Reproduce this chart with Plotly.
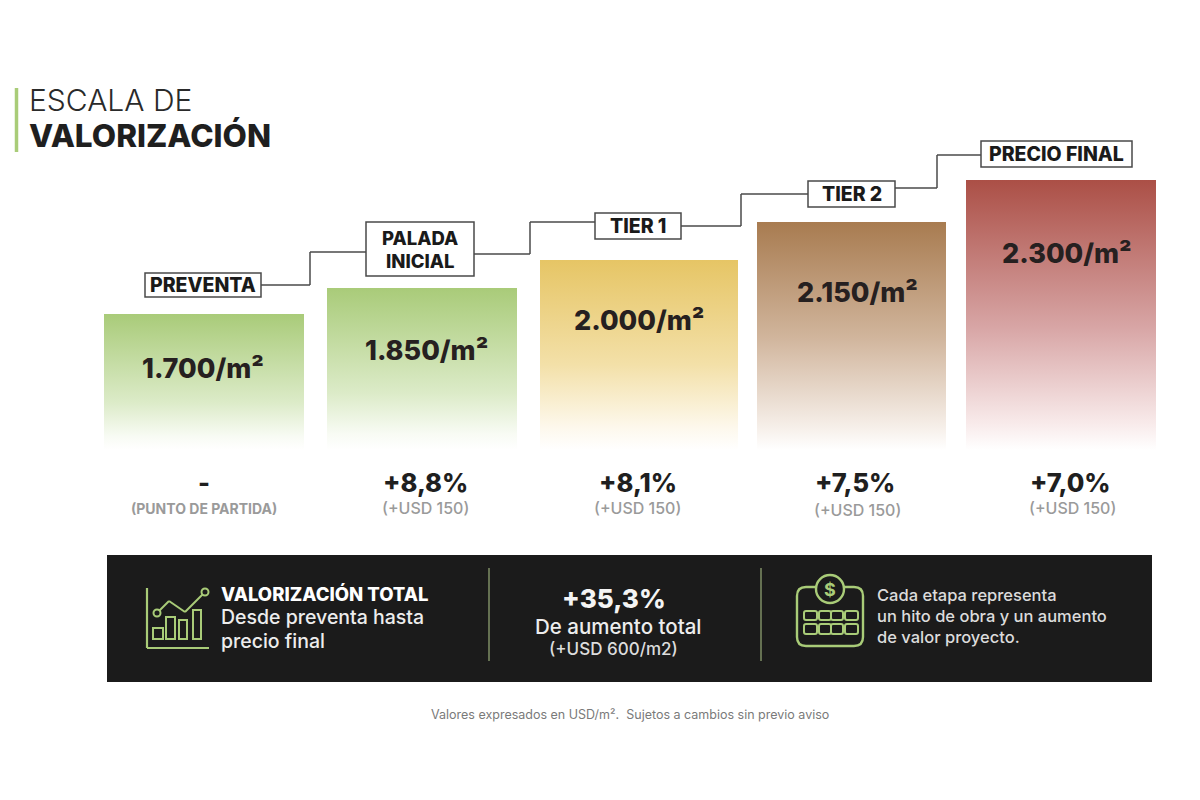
import plotly.graph_objects as go

# =========================
# Data
# =========================
stage_labels = ["PREVENTA", "PALADA<br>INICIAL", "TIER 1", "TIER 2", "PRECIO FINAL"]
price_values = [1700, 1850, 2000, 2150, 2300]
# the bars are not to scale in the source, so drawn height is read separately
drawn_heights = [136, 162, 190, 228, 270]
pct_changes = [None, 8.8, 8.1, 7.5, 7.0]
usd_changes = [None, 150, 150, 150, 150]

total_pct = "+35,3%"
total_usd = "(+USD 600/m2)"

# =========================
# Layout (pixels)
# =========================
FONT = "Inter"
INK = "#1f1f1f"
GREEN = "#a9cc78"
BASELINE = 450
PAD = 3  # annotations sit a little inside their anchor

bar_left = [104, 327, 540, 757, 966]
bar_right = [304, 517, 738, 946, 1156]
bar_fades = [
    [[0, "#ffffff"], [0.10, "#f8fbf4"], [0.35, "#dcebc8"], [1, "#a9cb79"]],
    [[0, "#ffffff"], [0.10, "#f8fbf4"], [0.35, "#dcebc8"], [1, "#a9cb79"]],
    [[0, "#ffffff"], [0.12, "#fdf8ec"], [0.45, "#f3e0a8"], [1, "#e6c565"]],
    [[0, "#ffffff"], [0.10, "#f6efe9"], [0.50, "#d0b49b"], [1, "#a87b50"]],
    [[0, "#ffffff"], [0.10, "#f8eaea"], [0.45, "#d8a6a6"], [1, "#ab4f46"]],
]
price_xy = [(203, 368), (426, 350), (639, 320), (857, 292), (1067, 253)]
pct_x = [204, 425, 638, 855, 1070]
usd_x = [204, 425, 637, 857, 1072]
usd_y = [508, 508, 508, 510, 508]
label_boxes = [
    (145, 261, 273, 297),
    (366, 474, 222, 276),
    (595, 681, 213, 239),
    (808, 895, 181, 207),
    (981, 1132, 141, 167),
]
connectors = [
    [(261, 285), (310, 285), (310, 252), (366, 252)],
    [(474, 254), (530, 254), (530, 222), (595, 222)],
    [(681, 226), (741, 226), (741, 194), (808, 194)],
    [(895, 188), (937, 188), (937, 155), (981, 155)],
]

fig = go.Figure()


def text(x, y, s, size, color=INK, bold=False, anchor="center", weight=None):
    fig.add_annotation(
        x=x - PAD if anchor == "left" else x, y=y, text=s, showarrow=False,
        xanchor=anchor, yanchor="middle", align="center",
        font=dict(family=FONT, size=size, color=color,
                  weight=weight if weight else (700 if bold else 400)),
    )


def line(x0, y0, x1, y1, color, width=1.5):
    fig.add_shape(type="line", x0=x0, y0=y0, x1=x1, y1=y1,
                  line=dict(color=color, width=width))


def rect(x0, y0, x1, y1, color, width=1.5, fill=None):
    fig.add_shape(type="rect", x0=x0, y0=y0, x1=x1, y1=y1,
                  line=dict(color=color, width=width),
                  fillcolor=fill if fill else "rgba(0,0,0,0)")


def round_rect_path(x0, y0, x1, y1, r):
    return (f"M {x0 + r} {y0} L {x1 - r} {y0} Q {x1} {y0} {x1} {y0 + r} "
            f"L {x1} {y1 - r} Q {x1} {y1} {x1 - r} {y1} L {x0 + r} {y1} "
            f"Q {x0} {y1} {x0} {y1 - r} L {x0} {y0 + r} Q {x0} {y0} {x0 + r} {y0} Z")


# =========================
# Title
# =========================
line(16.5, 88, 16.5, 152, GREEN, 3.5)
text(30, 100, "ESCALA DE", 30, "#2a2a2a", anchor="left", weight=300)
text(30, 135, "VALORIZACIÓN", 31.5, INK, anchor="left", weight=800)

# =========================
# Bars
# =========================
for i, h in enumerate(drawn_heights):
    x0, x1 = bar_left[i], bar_right[i]
    top = BASELINE - h
    fig.add_trace(go.Scatter(
        x=[x0, x0, x1, x1, x0],
        y=[BASELINE, top, top, BASELINE, BASELINE],
        mode="lines",
        line=dict(width=0),
        fill="toself",
        fillgradient=dict(type="vertical", colorscale=bar_fades[i]),
        hoverinfo="skip",
        showlegend=False,
    ))
    price = f"{price_values[i]:,}".replace(",", ".") + "/m²"
    text(price_xy[i][0], price_xy[i][1], price, 27, "#262020", weight=800)

    pct = "-" if pct_changes[i] is None else f"+{pct_changes[i]:.1f}%".replace(".", ",")
    text(pct_x[i], 482, pct, 25.5, INK, weight=800)
    usd = "(PUNTO DE PARTIDA)" if usd_changes[i] is None else f"(+USD {usd_changes[i]})"
    text(usd_x[i], usd_y[i], usd, 14 if usd_changes[i] is None else 16, "#9a9a9a",
         weight=700 if usd_changes[i] is None else 500)

# =========================
# Stage labels and connectors
# =========================
for pts in connectors:
    for a, b in zip(pts[:-1], pts[1:]):
        line(a[0], a[1], b[0], b[1], "#4a4a4a", 1.5)

for lab, box in zip(stage_labels, label_boxes):
    rect(box[0], box[2], box[1], box[3], "#4a4a4a", 1.5, "#ffffff")
    rows = lab.split("<br>")
    cx = (box[0] + box[1]) / 2
    if len(rows) == 1:
        text(cx, (box[2] + box[3]) / 2, rows[0], 19.5, "#1a1a1a", weight=800)
    else:
        text(cx, box[2] + 15.5, rows[0], 18.5, "#1a1a1a", weight=800)
        text(cx, box[2] + 38.5, rows[1], 18.5, "#1a1a1a", weight=800)

# =========================
# Dark panel
# =========================
fig.add_shape(type="rect", x0=107, y0=555, x1=1152, y1=682,
              line=dict(width=0), fillcolor="#1b1b1b")
line(489, 568, 489, 661, "#7f8f66", 1.5)
line(761, 568, 761, 661, "#7f8f66", 1.5)

# chart icon
ICON = "#a9cc78"
line(147, 588, 147, 648, ICON, 2.2)
line(147, 648, 209, 648, ICON, 2.2)
for x0, x1, y0 in [(153, 163, 628), (166, 175, 617), (179, 187, 620), (193, 201, 610)]:
    rect(x0, y0, x1, 639, ICON, 2)
trend = [(157, 613), (169, 601), (185, 612), (205, 592)]
for a, b in zip(trend[:-1], trend[1:]):
    line(a[0], a[1], b[0], b[1], ICON, 2)
for cx, cy in [trend[0], trend[-1]]:
    fig.add_shape(type="circle", x0=cx - 3.5, y0=cy - 3.5, x1=cx + 3.5, y1=cy + 3.5,
                  line=dict(color=ICON, width=2), fillcolor="#1b1b1b")

text(222, 593.5, "VALORIZACIÓN TOTAL", 18.5, "#ffffff", anchor="left", weight=800)
text(222, 617, "Desde preventa hasta", 19.5, "#ededed", anchor="left", weight=500)
text(222, 641, "precio final", 19.5, "#ededed", anchor="left", weight=500)

text(614, 598, total_pct, 26, "#f4f4f4", weight=800)
text(618, 626, "De aumento total", 20.5, "#ededed", weight=500)
text(613, 649, total_usd, 17, "#dddddd", weight=500)

# calendar icon
fig.add_shape(type="path", path=round_rect_path(797, 587, 863, 646, 9),
              line=dict(color=ICON, width=2.4))
fig.add_shape(type="circle", x0=816, y0=575, x1=844, y1=603,
              line=dict(color=ICON, width=2.4), fillcolor="#1b1b1b")
text(830, 589, "$", 18, ICON, weight=700)
for y0, y1 in [(611, 620), (624, 634)]:
    for x0, x1 in [(804, 817), (819, 831), (831, 843), (845, 858)]:
        fig.add_shape(type="path", path=round_rect_path(x0, y0, x1, y1, 2),
                      line=dict(color=ICON, width=2))

for y, s in [(595, "Cada etapa representa"),
             (616, "un hito de obra y un aumento"),
             (637, "de valor proyecto.")]:
    text(878, y, s, 16.5, "#dcdcdc", anchor="left", weight=500)

text(630, 714, "Valores expresados en USD/m².  Sujetos a cambios sin previo aviso",
     12.5, "#7a7a7a")

fig.update_xaxes(range=[0, 1200], visible=False, fixedrange=True)
fig.update_yaxes(range=[800, 0], visible=False, fixedrange=True)
fig.update_layout(
    width=1200, height=800,
    margin=dict(l=0, r=0, t=0, b=0),
    paper_bgcolor="#ffffff", plot_bgcolor="#ffffff",
    showlegend=False,
    font=dict(family=FONT),
)

fig.write_html("out.html", config={"displayModeBar": False},
               post_script="document.body.style.margin='0';")
